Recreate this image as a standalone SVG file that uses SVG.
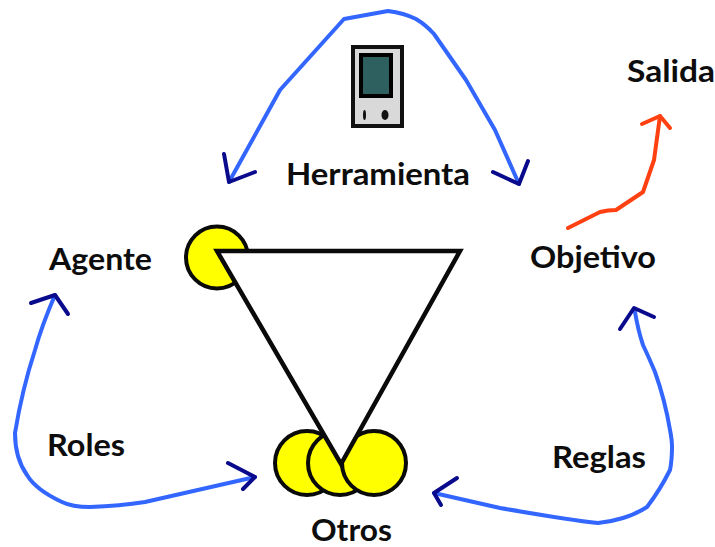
<svg xmlns="http://www.w3.org/2000/svg" width="715" height="547" viewBox="0 0 715 547">
<style>
text{font-family:"Lato","Liberation Sans",sans-serif;font-weight:700;font-size:31px;fill:#0d0d0d}
.c{fill:#ffff00;stroke:#0a0a0a;stroke-width:4}
.b{fill:none;stroke:#3366ff;stroke-width:4;stroke-linejoin:round;stroke-linecap:round}
.h{fill:none;stroke:#0a0a8c;stroke-width:4;stroke-linejoin:round;stroke-linecap:round}
.r{fill:none;stroke:#ff4010;stroke-width:4;stroke-linejoin:round;stroke-linecap:round}
</style>
<g id="connectors">
<path class="b" d="M229 182L280 90L344 19L388 11Q404 13 416 19Q426 25 434 34L466 80L495 130L519 184"/>
<path class="h" d="M224 154L229 182L255 172"/>
<path class="h" d="M528 161L519 184L493 172"/>
<path class="r" d="M568 228L600 212Q608 210 616 210L643 192L654 160L660 116"/>
<path class="r" d="M642 124L660 116L670 128"/>
<path class="b" d="M55 295Q42 325 35 350Q22 390 15 433Q15 458 27 475Q36 490 62 502Q72 507 90 507Q120 506 145 502L255 477"/>
<path class="h" d="M31 303L55 295L68 314"/>
<path class="h" d="M228 463L255 477L243 489"/>
<path class="b" d="M635 312Q638 330 643 345Q650 360 655 372Q665 400 670 430Q672 440 672 447Q672 460 670 470Q660 490 647 507Q636 514 623 518Q610 522 598 523Q570 520 500 508L434 493"/>
<path class="h" d="M620 329L634 308L654 317"/>
<path class="h" d="M457 478L434 493L441 505"/>
</g>
<g id="agente-circle"><circle class="c" cx="217" cy="257.500" r="31"/></g>
<g id="otros-circles">
<circle class="c" cx="307" cy="463" r="32"/>
<circle class="c" cx="340" cy="463" r="32"/>
<circle class="c" cx="374" cy="463" r="32"/>
</g>
<g id="triangle"><path d="M217 251H460L341 464Z" fill="#fff" stroke="#0a0a0a" stroke-width="4.500" stroke-linejoin="miter"/></g>
<g id="tool">
<rect x="353" y="47" width="49" height="79" fill="#d9d9d9" stroke="#111" stroke-width="4"/>
<rect x="361" y="55" width="30" height="41" fill="#2f6060" stroke="#000" stroke-width="4"/>
<ellipse cx="364.500" cy="115" rx="1.500" ry="5" fill="#111"/>
<ellipse cx="385" cy="115" rx="3.500" ry="5" fill="#111"/>
</g>
<g id="herramienta"><text x="286" y="185" textLength="184" lengthAdjust="spacingAndGlyphs">Herramienta</text></g>
<g id="salida"><text x="627" y="82" textLength="88" lengthAdjust="spacingAndGlyphs">Salida</text></g>
<g id="objetivo"><text x="530" y="268" textLength="126" lengthAdjust="spacingAndGlyphs">Objetivo</text></g>
<g id="agente"><text x="49" y="270" textLength="103" lengthAdjust="spacingAndGlyphs">Agente</text></g>
<g id="roles"><text x="47" y="456" textLength="78" lengthAdjust="spacingAndGlyphs">Roles</text></g>
<g id="reglas"><text x="552" y="468" textLength="94" lengthAdjust="spacingAndGlyphs">Reglas</text></g>
<g id="otros"><text x="311" y="541" textLength="81" lengthAdjust="spacingAndGlyphs">Otros</text></g>
</svg>
